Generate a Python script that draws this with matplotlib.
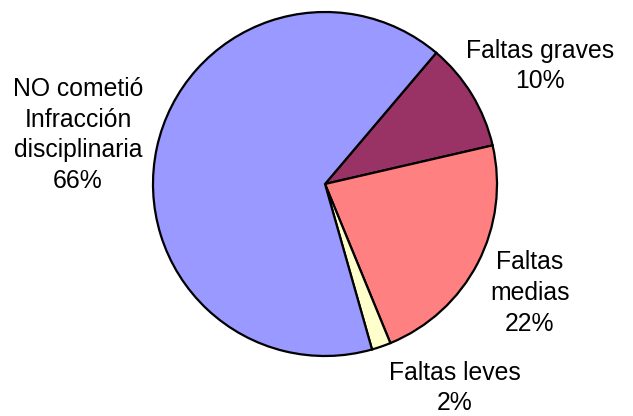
import matplotlib
matplotlib.use('Agg')
import matplotlib.pyplot as plt

# data (order: clockwise starting at the top-right boundary)
categories = ['Faltas graves', 'Faltas\nmedias', 'Faltas leves', 'NO cometió\nInfracción\ndisciplinaria']
values = [10.2, 22.4, 1.8, 65.6]
colors = ['#993366', '#FF8080', '#FFFFCC', '#9999FF']

# label centres in pixel coordinates (x, y from top)
label_pos = [(540, 66), (530, 293), (455, 388), (78, 135)]

plt.rcParams['font.family'] = ['Liberation Sans', 'DejaVu Sans']

W, H = 633, 416
fig = plt.figure(figsize=(W / 100, H / 100), dpi=100)
ax = fig.add_axes([0, 0, 1, 1])

ax.pie(values, colors=colors, startangle=49.7, counterclock=False,
       center=(325, H - 184), radius=172, frame=True,
       wedgeprops=dict(edgecolor='black', linewidth=1.6))
ax.set_xlim(0, W)
ax.set_ylim(0, H)
ax.set_aspect('equal')
ax.axis('off')

total = sum(values)
for cat, v, (x, y) in zip(categories, values, label_pos):
    ax.text(x, H - y, '%s\n%d%%' % (cat, round(v / total * 100)),
            ha='center', va='center', fontsize=17.8, linespacing=1.36)

fig.savefig('out.png', dpi=100)
